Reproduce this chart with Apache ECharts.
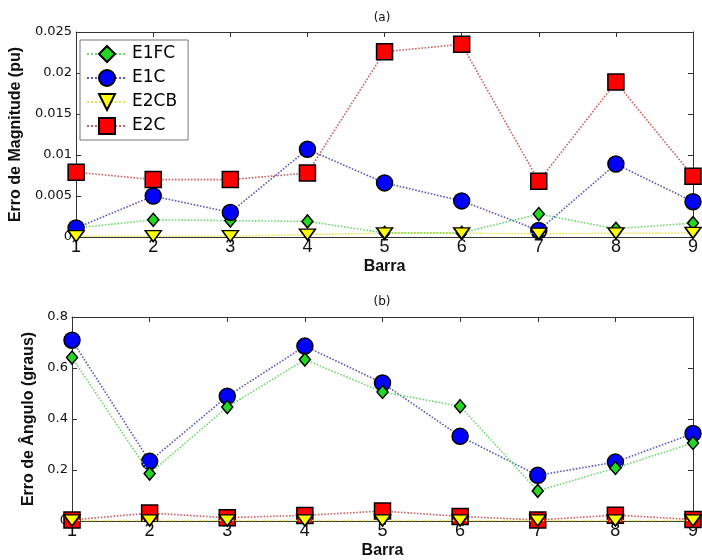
<!DOCTYPE html>
<html>
<head>
<meta charset="utf-8">
<script src="https://cdn.jsdelivr.net/npm/echarts@6/dist/echarts.min.js"></script>
<style>html,body{margin:0;padding:0;background:#fff;}#c{width:702px;height:560px;}</style>
</head>
<body>
<div id="c"></div>
<script>
// ---- data ----
const barras = [1, 2, 3, 4, 5, 6, 7, 8, 9];
const seriesNames = ['E1FC', 'E1C', 'E2CB', 'E2C'];
// (a) Erro de Magnitude (pu)
const magE1FC = [0.0011, 0.0021, 0.0020, 0.0019, 0.0005, 0.0005, 0.0028, 0.0010, 0.0017];
const magE1C  = [0.0011, 0.0050, 0.0030, 0.0107, 0.0066, 0.0044, 0.0008, 0.0089, 0.0043];
const magE2CB = [0.0001, 0.0001, 0.0001, 0.0003, 0.00045, 0.00045, 0.0004, 0.00045, 0.0005];
const magE2C  = [0.0079, 0.0070, 0.0070, 0.0078, 0.0226, 0.0235, 0.0068, 0.0189, 0.0074];
// (b) Erro de Ângulo (graus)
const angE1FC = [0.641, 0.186, 0.447, 0.633, 0.506, 0.450, 0.118, 0.208, 0.306];
const angE1C  = [0.709, 0.234, 0.489, 0.686, 0.541, 0.332, 0.179, 0.231, 0.343];
const angE2CB = [0.002, 0.002, 0.002, 0.002, 0.002, 0.002, 0.002, 0.002, 0.002];
const angE2C  = [0.004, 0.031, 0.013, 0.022, 0.039, 0.018, 0.004, 0.023, 0.006];
const magTicks = [0, 0.005, 0.01, 0.015, 0.02, 0.025];
const angTicks = [0, 0.2, 0.4, 0.6, 0.8];

// ---- styles ----
const styles = {
  E1FC: {line: '#6fd86f', fill: '#22d822', symbol: 'diamond', size: [11, 13], rotate: 0},
  E1C:  {line: '#5a5ac0', fill: '#0000ff', symbol: 'circle', size: 16, rotate: 0},
  E2CB: {line: '#e4e44c', fill: '#ffff00', symbol: 'triangle', size: [16, 11], rotate: 180},
  E2C:  {line: '#cc5f5f', fill: '#ff0000', symbol: 'rect', size: 16, rotate: 0}
};

function mk(name, vals, gi, z) {
  const s = styles[name];
  return {
    name: name, type: 'line', xAxisIndex: gi * 2, yAxisIndex: gi * 2, z: z,
    data: barras.map((b, i) => [b, vals[i]]),
    symbol: s.symbol, symbolSize: s.size, symbolRotate: s.rotate,
    showAllSymbol: true, clip: false, animation: false,
    lineStyle: {color: s.line, width: 1.6, type: 'dotted'},
    itemStyle: {color: s.fill, borderColor: '#000', borderWidth: 1.5, opacity: 1},
    emphasis: {disabled: true}
  };
}

const axCol = '#333';
function xAx(gi, top) {
  return {
    type: 'value', gridIndex: gi, min: 1, max: 9, interval: 1,
    position: top ? 'top' : 'bottom',
    axisLine: {show: true, onZero: false, lineStyle: {color: axCol, width: 1}},
    axisTick: {show: true, inside: true, length: 5, lineStyle: {color: axCol}},
    axisLabel: top ? {show: false} : {show: true, margin: 1, color: '#111',
      fontFamily: '"Liberation Sans Narrow", "Liberation Sans", Arial', fontSize: 18},
    splitLine: {show: false},
    name: top ? '' : 'Barra', nameLocation: 'middle', nameGap: 22,
    nameTextStyle: {fontFamily: '"Liberation Sans", Arial', fontWeight: 'bold', fontSize: 16, color: '#111'}
  };
}
function yAx(gi, right, max, interval, name, gap) {
  return {
    type: 'value', gridIndex: gi, min: 0, max: max, interval: interval,
    position: right ? 'right' : 'left',
    axisLine: {show: true, onZero: false, lineStyle: {color: axCol, width: 1}},
    axisTick: {show: true, inside: true, length: 5, lineStyle: {color: axCol}},
    axisLabel: right ? {show: false} : {show: true, margin: 4, color: '#111',
      fontFamily: '"DejaVu Sans", Arial', fontSize: 13},
    splitLine: {show: false},
    name: right ? '' : name, nameLocation: 'middle', nameGap: gap,
    nameTextStyle: {fontFamily: '"Liberation Sans", Arial', fontWeight: 'bold', fontSize: 16, color: '#111'}
  };
}

const option = {
  backgroundColor: '#fff',
  animation: false,
  grid: [
    {left: 72, top: 32, width: 621, height: 205},
    {left: 72, top: 317, width: 621, height: 204}
  ],
  xAxis: [xAx(0, false), xAx(0, true), xAx(1, false), xAx(1, true)],
  yAxis: [
    yAx(0, false, magTicks[magTicks.length - 1], magTicks[1] - magTicks[0], 'Erro de Magnitude (pu)', 48),
    yAx(0, true, magTicks[magTicks.length - 1], magTicks[1] - magTicks[0], '', 0),
    yAx(1, false, angTicks[angTicks.length - 1], angTicks[1] - angTicks[0], 'Erro de Ângulo (graus)', 33),
    yAx(1, true, angTicks[angTicks.length - 1], angTicks[1] - angTicks[0], '', 0)
  ],
  legend: {
    data: seriesNames, orient: 'vertical', left: 80, top: 40, z: 20,
    itemWidth: 40, itemHeight: 20, itemGap: 4, padding: [4, 11, 4, 6],
    backgroundColor: '#fff', borderColor: '#777', borderWidth: 1, borderRadius: 0,
    selectedMode: false,
    textStyle: {fontFamily: '"DejaVu Sans", Arial', fontSize: 17, color: '#000', lineHeight: 20}
  },
  graphic: [
    {type: 'text', x: 382, y: 18, style: {text: '(a)', textAlign: 'center', textVerticalAlign: 'middle', font: '12px "DejaVu Sans", Arial', fill: '#111'}},
    {type: 'text', x: 382, y: 302, style: {text: '(b)', textAlign: 'center', textVerticalAlign: 'middle', font: '12px "DejaVu Sans", Arial', fill: '#111'}}
  ],
  series: [
    mk('E1FC', magE1FC, 0, 2),
    mk('E1C', magE1C, 0, 3),
    mk('E2C', magE2C, 0, 4),
    mk('E2CB', magE2CB, 0, 5),
    mk('E1C', angE1C, 1, 2),
    mk('E1FC', angE1FC, 1, 3),
    mk('E2C', angE2C, 1, 4),
    mk('E2CB', angE2CB, 1, 5)
  ]
};
// second grid uses axes index 2 (x) and 2 (y)
option.series.forEach(s => { if (s.xAxisIndex === 2) { s.xAxisIndex = 2; s.yAxisIndex = 2; } });

const chart = echarts.init(document.getElementById('c'), null, {renderer: 'canvas'});
chart.setOption(option);
</script>
</body>
</html>
